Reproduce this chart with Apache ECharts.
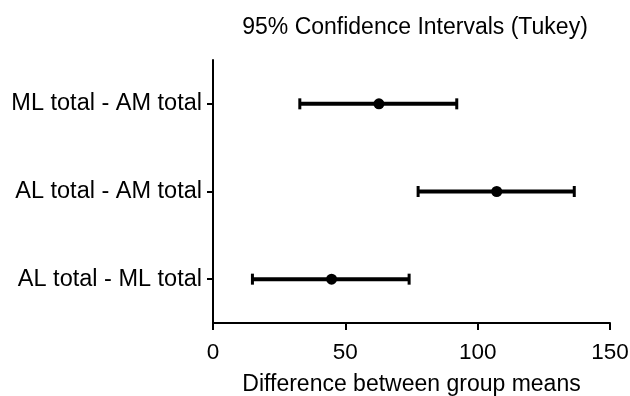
<!DOCTYPE html>
<html>
<head>
<meta charset="utf-8">
<script src="https://cdn.jsdelivr.net/npm/echarts@6/dist/echarts.min.js"></script>
<style>
html,body{margin:0;padding:0;background:#fff;}
#chart{width:630px;height:396px;}
</style>
</head>
<body>
<div id="chart"></div>
<script>
var categories = ['AL total - ML total', 'AL total - AM total', 'ML total - AM total'];
var diffs = [44.8, 107.2, 62.7];
var lowers = [14.9, 77.5, 32.8];
var uppers = [74.1, 136.5, 92.1];
var xTicks = [0, 50, 100, 150];

var FONT = '"Liberation Sans", Arial, sans-serif';
var chart = echarts.init(document.getElementById('chart'), null, {renderer: 'canvas'});

var data = categories.map(function (c, i) { return [lowers[i], diffs[i], uppers[i], i]; });

chart.setOption({
  animation: false,
  backgroundColor: '#fff',
  title: {
    text: '95% Confidence Intervals (Tukey)',
    left: 410, top: 11, textAlign: 'center',
    textStyle: {fontFamily: FONT, fontSize: 23, fontWeight: 'normal', color: '#000'}
  },
  grid: {left: 213, right: 20, top: 60, bottom: 73, containLabel: false, outerBoundsMode: 'none'},
  xAxis: {
    type: 'value', min: xTicks[0], max: xTicks[xTicks.length - 1], interval: 50,
    name: 'Difference between group means', nameLocation: 'middle', nameGap: 50,
    nameTextStyle: {fontFamily: FONT, fontSize: 23, color: '#000'},
    axisLine: {show: true, lineStyle: {color: '#000', width: 2}},
    axisTick: {show: true, length: 7, lineStyle: {color: '#000', width: 2}},
    axisLabel: {fontFamily: FONT, fontSize: 22.5, color: '#000', margin: 18},
    splitLine: {show: false}
  },
  yAxis: {
    type: 'category', data: categories, boundaryGap: true,
    axisLine: {show: true, lineStyle: {color: '#000', width: 2}},
    axisTick: {show: true, alignWithLabel: true, length: 6, lineStyle: {color: '#000', width: 2}},
    axisLabel: {fontFamily: FONT, fontSize: 23.5, color: '#000', margin: 11},
    splitLine: {show: false}
  },
  series: [{
    type: 'custom',
    data: data,
    encode: {x: [0, 1, 2], y: 3},
    renderItem: function (params, api) {
      var y = api.value(3);
      var pl = api.coord([api.value(0), y]);
      var pc = api.coord([api.value(1), y]);
      var ph = api.coord([api.value(2), y]);
      var capH = 5.5;
      var st = {stroke: '#000', lineWidth: 4};
      return {
        type: 'group',
        children: [
          {type: 'line', shape: {x1: pl[0], y1: pl[1], x2: ph[0], y2: ph[1]}, style: st},
          {type: 'line', shape: {x1: pl[0], y1: pl[1] - capH, x2: pl[0], y2: pl[1] + capH}, style: {stroke: '#000', lineWidth: 3}},
          {type: 'line', shape: {x1: ph[0], y1: ph[1] - capH, x2: ph[0], y2: ph[1] + capH}, style: {stroke: '#000', lineWidth: 3}},
          {type: 'circle', shape: {cx: pc[0], cy: pc[1], r: 5.5}, style: {fill: '#000'}}
        ]
      };
    }
  }]
});
</script>
</body>
</html>
